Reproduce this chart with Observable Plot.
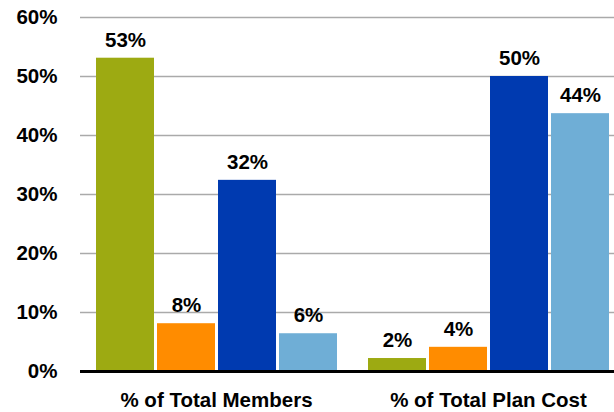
<!DOCTYPE html>
<html>
<head>
<meta charset="utf-8">
<script src="https://cdn.jsdelivr.net/npm/d3@7"></script>
<script src="https://cdn.jsdelivr.net/npm/@observablehq/plot@0.6"></script>
<style>
  html, body { margin: 0; padding: 0; background: #fff; }
</style>
</head>
<body>
<div id="chart"></div>
<script>
const groups = ["% of Total Members", "% of Total Plan Cost"];
const series = ["Series 1", "Series 2", "Series 3", "Series 4"];
const membersValues = [53.1, 8.1, 32.4, 6.4];
const planCostValues = [2.2, 4.1, 50.0, 43.7];
const yTicks = [0, 10, 20, 30, 40, 50, 60];
const colors = ["#9DAA12", "#FF8C00", "#003AB0", "#6FAED6"];

const valuesByGroup = [membersValues, planCostValues];
const data = groups.flatMap((g, i) =>
  series.map((s, j) => ({group: g, series: s, value: valuesByGroup[i][j]}))
);

const font = "'Liberation Sans', Arial, sans-serif";

const chart = Plot.plot({
  width: 614,
  height: 412,
  marginLeft: 80,
  marginRight: -10,
  marginTop: 17,
  marginBottom: 41,
  style: {fontFamily: font, fontSize: "20.5px", fontWeight: "bold", color: "#000", background: "#fff"},
  fx: {domain: groups, paddingInner: 0, paddingOuter: 0, axis: "bottom", label: null, tickSize: 0, tickPadding: 21},
  x: {domain: series, paddingInner: 0.054, paddingOuter: 0.245, axis: null},
  y: {domain: [0, 60], ticks: yTicks, tickFormat: d => d + "%", label: null, tickSize: 0, tickPadding: 23},
  color: {domain: series, range: colors},
  marks: [
    Plot.gridY(yTicks.filter(d => d > 0), {stroke: "#aaa", strokeOpacity: 1, strokeWidth: 1.5}),
    Plot.barY(data, {fx: "group", x: "series", y: "value", fill: "series"}),
    Plot.text(data, {
      fx: "group", x: "series", y: "value",
      text: d => Math.round(d.value) + "%",
      dy: -18, fill: "#000", fontSize: 20.5, fontWeight: "bold"
    }),
    Plot.ruleY([0], {stroke: "#000", strokeWidth: 3})
  ]
});

document.getElementById("chart").appendChild(chart);
</script>
</body>
</html>
